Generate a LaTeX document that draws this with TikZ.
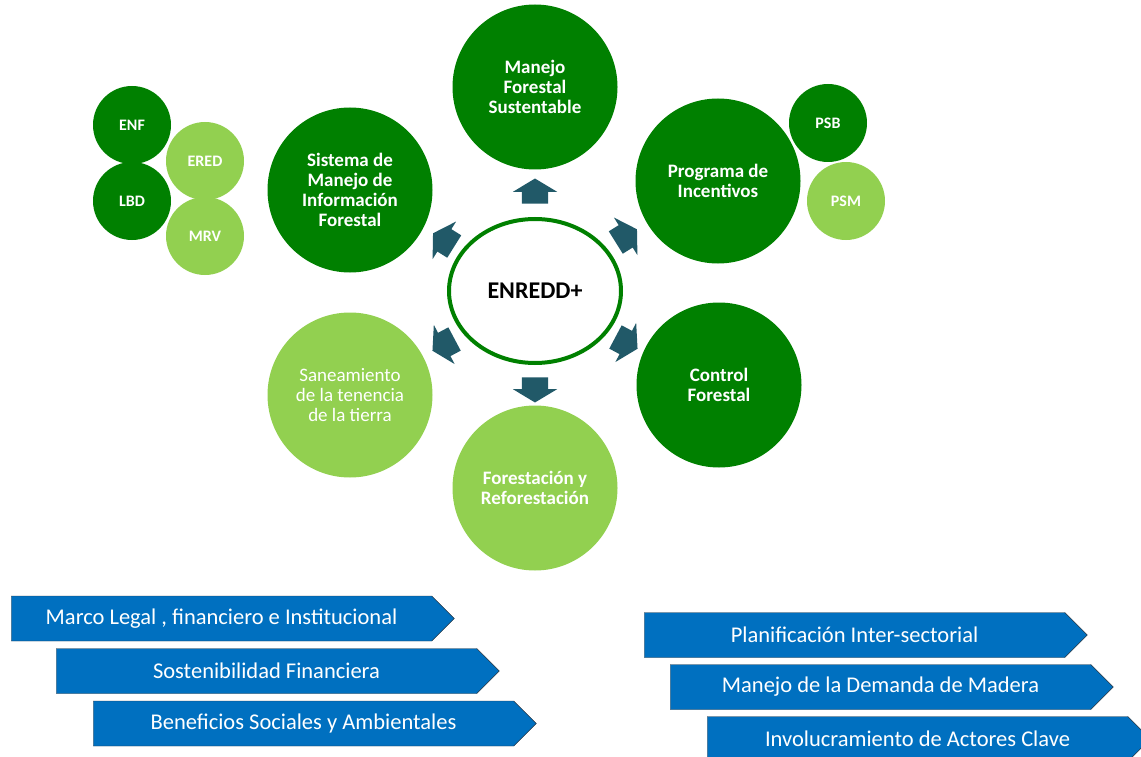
\documentclass[tikz,border=0pt]{standalone}
\usepackage{fontspec}
\setmainfont{Carlito}
\usetikzlibrary{shapes.geometric, shapes.arrows, shapes.symbols}

\definecolor{verdeosc}{RGB}{0,128,0}
\definecolor{verdecla}{RGB}{146,208,80}
\definecolor{flecha}{RGB}{33,89,104}
\definecolor{azul}{RGB}{0,112,192}
\definecolor{borde}{RGB}{45,55,65}

\tikzset{
  grande/.style = {circle, minimum size=165, inner sep=0, text=white, align=center,
    font=\bfseries\fontsize{19}{20}\selectfont},
  chico/.style = {circle, minimum size=78, inner sep=0, text=white,
    font=\bfseries\fontsize{16}{18}\selectfont},
  flechita/.style = {single arrow, fill=flecha, minimum height=25, inner xsep=0, inner ysep=13,
    single arrow head extend=9, single arrow tip angle=118},
  banda/.style = {signal, signal to=east, fill=azul, draw=borde, minimum height=45,
    minimum width=443, inner sep=0, text=white, font=\fontsize{22.5}{24}\selectfont}
}

\begin{document}
\begin{tikzpicture}[x=1pt, y=-1pt]

      \clip (0,0) rectangle (1141,757);

      % centro
      \node[ellipse, draw=verdeosc, line width=4, minimum width=172, minimum height=144,
        font=\bfseries\fontsize{24}{28}\selectfont] (enredd) at (535,291) {ENREDD+};

      % circulos grandes
      \node[grande, fill=verdeosc] (mfs) at (535,87) {Manejo\\Forestal\\Sustentable};
      \node[grande, fill=verdeosc] (pdi) at (718,181) {Programa de\\Incentivos};
      \node[grande, fill=verdeosc] (cf) at (719,385) {Control\\Forestal};
      \node[grande, fill=verdecla] (fyr) at (535,488) {Forestación y\\Reforestación};
      \node[grande, fill=verdecla, font=\fontsize{19}{20}\selectfont] (stt) at (350,395)
        {Saneamiento\\de la tenencia\\de la tierra};
      \node[grande, fill=verdeosc] (smif) at (350,190) {Sistema de\\Manejo de\\Información\\Forestal};

      % circulos chicos
      \node[chico, fill=verdeosc] (enf) at (132,125) {ENF};
      \node[chico, fill=verdecla] (ered) at (205,161) {ERED};
      \node[chico, fill=verdeosc] (lbd) at (132,201) {LBD};
      \node[chico, fill=verdecla] (mrv) at (205,236) {MRV};
      \node[chico, fill=verdeosc] (psb) at (828,123) {PSB};
      \node[chico, fill=verdecla] (psm) at (846,201) {PSM};

      % flechas
      \node[flechita, rotate=90] (f1) at (535,195) {};
      \node[flechita, rotate=32] (f2) at (623,238) {};
      \node[flechita, rotate=-28] (f3) at (623,341) {};
      \node[flechita, rotate=270] (f4) at (535,386) {};
      \node[flechita, rotate=208] (f5) at (447,343) {};
      \node[flechita, rotate=148] (f6) at (447,242) {};

      % bandas
      \node[banda] (b1) at (221.5,618.5) {Marco Legal , financiero e Institucional};
      \node[banda] (b2) at (266.5,671) {Sostenibilidad Financiera};
      \node[banda] (b3) at (303.5,723.5) {Beneficios Sociales y Ambientales};
      \node[banda] (b4) at (854.5,635) {Planificación Inter-sectorial};
      \node[banda] (b5) at (880.5,687) {Manejo de la Demanda de Madera};
      \node[banda] (b6) at (917.5,739) {Involucramiento de Actores Clave};

\end{tikzpicture}
\end{document}
